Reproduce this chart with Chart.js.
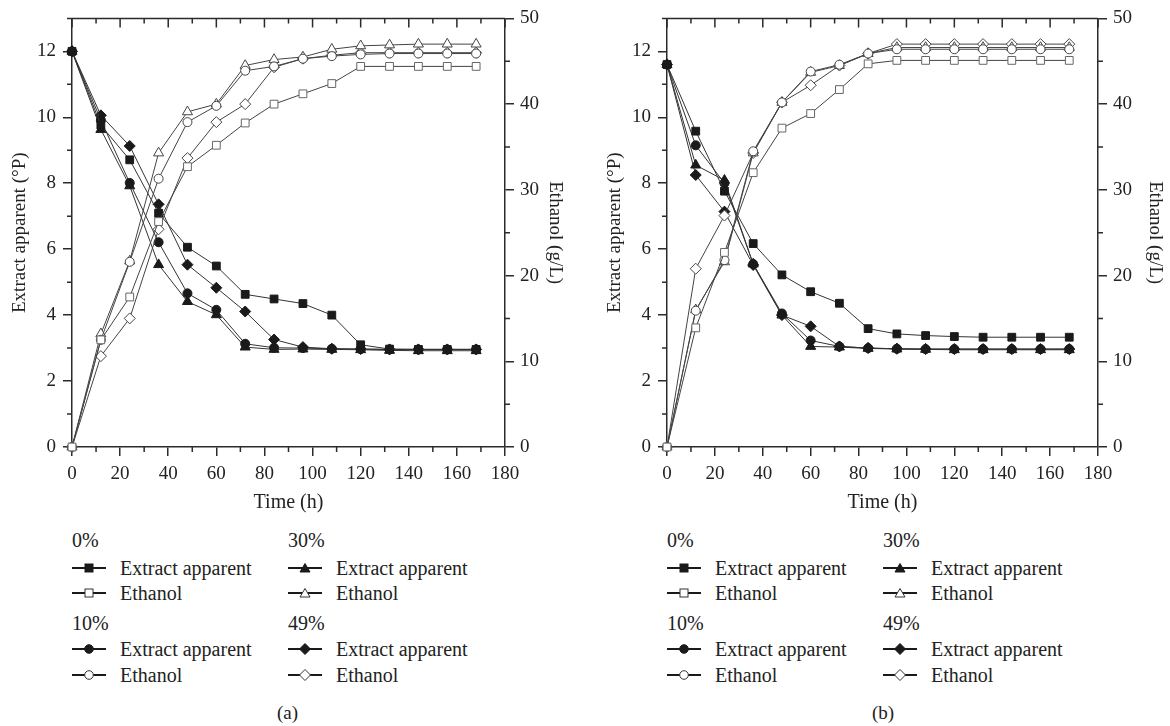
<!DOCTYPE html>
<html>
<head>
<meta charset="utf-8">
<script src="https://cdn.jsdelivr.net/npm/chart.js"></script>
<style>
  body { margin: 0; background: #fff; width: 1170px; height: 726px; overflow: hidden;
         font-family: 'Liberation Serif', serif; color: #222; }
  .panel { position: absolute; top: 0; height: 726px; }
  .panel canvas { position: absolute; left: 0; top: 0; }
  .lg { position: absolute; font-size: 20px; line-height: 20px; white-space: nowrap; }
  .lg svg { position: absolute; left: 0; top: 0; }
  .cap { position: absolute; top: 703px; font-size: 19px; line-height: 20px; }
</style>
</head>
<body>
<div class="panel" id="pa" style="left:0; width:595px"><canvas id="chartA" width="595" height="520"></canvas></div>
<div class="panel" id="pb" style="left:595px; width:575px"><canvas id="chartB" width="575" height="520"></canvas></div>
<script>
// sampling times (h)
const time = [0, 12, 24, 36, 48, 60, 72, 84, 96, 108, 120, 132, 144, 156, 168];
const levels = ['0%', '10%', '30%', '49%'];

// panel (a) - extract apparent (°P)
const aExtract0  = [12, 9.76, 8.71, 7.09, 6.06, 5.49, 4.63, 4.49, 4.35, 4.0, 3.1, 2.97, 2.96, 2.96, 2.96];
const aExtract10 = [12, 9.91, 8.01, 6.21, 4.66, 4.16, 3.13, 3.01, 3.0, 2.98, 2.97, 2.96, 2.96, 2.96, 2.96];
const aExtract30 = [12, 9.63, 7.92, 5.53, 4.41, 4.01, 3.03, 2.96, 2.97, 2.96, 2.95, 2.93, 2.92, 2.92, 2.92];
const aExtract49 = [12, 10.06, 9.13, 7.36, 5.53, 4.83, 4.11, 3.26, 3.03, 2.98, 2.97, 2.96, 2.96, 2.96, 2.96];
// panel (a) - ethanol (g/L)
const aEthanol0  = [0, 12.5, 17.5, 26.3, 32.7, 35.2, 37.8, 40.0, 41.2, 42.4, 44.4, 44.4, 44.4, 44.4, 44.4];
const aEthanol10 = [0, 12.5, 21.6, 31.3, 37.9, 39.8, 43.9, 44.4, 45.3, 45.6, 45.8, 45.9, 45.9, 45.9, 45.9];
const aEthanol30 = [0, 13.2, 21.7, 34.3, 39.1, 40.0, 44.5, 45.2, 45.5, 46.4, 46.8, 46.9, 47.0, 47.0, 47.0];
const aEthanol49 = [0, 10.6, 15.0, 25.4, 33.7, 37.9, 40.0, 44.3, 45.3, 45.7, 46.0, 46.0, 46.0, 46.0, 46.0];

// panel (b) - extract apparent (°P)
const bExtract0  = [11.6, 9.58, 7.76, 6.17, 5.22, 4.71, 4.36, 3.59, 3.43, 3.38, 3.35, 3.33, 3.33, 3.33, 3.33];
const bExtract10 = [11.6, 9.15, 8.0, 5.55, 4.05, 3.23, 3.05, 3.0, 2.98, 2.97, 2.97, 2.97, 2.97, 2.97, 2.97];
const bExtract30 = [11.6, 8.55, 8.09, 5.55, 4.0, 3.05, 3.03, 2.99, 2.97, 2.96, 2.95, 2.95, 2.95, 2.95, 2.95];
const bExtract49 = [11.6, 8.25, 7.14, 5.52, 4.0, 3.66, 3.05, 3.0, 2.98, 2.97, 2.97, 2.97, 2.97, 2.97, 2.97];
// panel (b) - ethanol (g/L)
const bEthanol0  = [0, 13.9, 22.7, 32.0, 37.2, 38.9, 41.7, 44.7, 45.1, 45.1, 45.1, 45.1, 45.1, 45.1, 45.1];
const bEthanol10 = [0, 15.9, 21.8, 34.5, 40.2, 43.8, 44.6, 45.9, 46.4, 46.4, 46.4, 46.4, 46.4, 46.4, 46.4];
const bEthanol30 = [0, 16.0, 21.6, 34.3, 40.2, 43.7, 44.5, 45.9, 46.6, 46.6, 46.6, 46.6, 46.6, 46.6, 46.6];
const bEthanol49 = [0, 20.8, 27.0, 34.3, 40.2, 42.2, 44.5, 45.9, 47.0, 47.0, 47.0, 47.0, 47.0, 47.0, 47.0];

const AXIS = '#2b2b2b';
const shapes = { '0%': 'rect', '10%': 'circle', '30%': 'triangle', '49%': 'rectRot' };
const radius = { rect: 5.5, circle: 4.5, triangle: 5.8, rectRot: 5.5 };

Chart.defaults.font.family = "'Liberation Serif', serif";
Chart.defaults.font.size = 19;
Chart.defaults.color = '#222';

// minor ticks + top frame, placed with the chart's own scales
const frameTicks = {
    id: 'frameTicks',
    afterDraw(chart) {
        const ctx = chart.ctx, a = chart.chartArea;
        const x = chart.scales.x, y = chart.scales.y, y2 = chart.scales.y2;
        ctx.save();
        ctx.strokeStyle = AXIS;
        ctx.lineWidth = 1.5;
        ctx.beginPath();
        ctx.moveTo(a.left - 5, a.top);
        ctx.lineTo(a.right, a.top);
        for (let v = 0; v <= 180; v += 10) {
            const px = x.getPixelForValue(v);
            ctx.moveTo(px, a.top);
            ctx.lineTo(px, a.top + (v % 20 === 0 ? 9 : 5));
            if (v % 20) { ctx.moveTo(px, a.bottom); ctx.lineTo(px, a.bottom + 5); }
        }
        for (let v = 1; v <= 13; v += 2) {
            const py = y.getPixelForValue(v);
            ctx.moveTo(a.left - 5, py); ctx.lineTo(a.left, py);
        }
        for (let v = 5; v <= 45; v += 10) {
            const py = y2.getPixelForValue(v);
            ctx.moveTo(a.right, py); ctx.lineTo(a.right + 5, py);
        }
        ctx.stroke();
        ctx.restore();
    }
};

function series(label, vals, axis, filled) {
    const shape = shapes[label];
    return {
        label: label + (axis === 'y' ? ' Extract apparent' : ' Ethanol'),
        data: time.map((t, i) => ({ x: t, y: vals[i] })),
        yAxisID: axis,
        showLine: true,
        borderColor: filled ? '#333' : '#444',
        borderWidth: 1,
        pointStyle: shape,
        pointRadius: radius[shape],
        pointBackgroundColor: filled ? '#1a1a1a' : '#fff',
        pointBorderColor: filled ? '#1a1a1a' : (label === '0%' ? '#666' : '#444'),
        pointBorderWidth: 1,
        clip: false
    };
}

function renderPanel(canvasId, extract, ethanol, rightWidth, rightTitlePad) {
    const datasets = [];
    levels.forEach((l, i) => datasets.push(series(l, ethanol[i], 'y2', false)));
    levels.forEach((l, i) => datasets.push(series(l, extract[i], 'y', true)));
    const gridOpts = { drawOnChartArea: false, tickLength: 9, color: AXIS, lineWidth: 1.5 };
    const borderOpts = { color: AXIS, width: 1.5 };
    new Chart(document.getElementById(canvasId), {
        type: 'scatter',
        data: { datasets: datasets },
        options: {
            responsive: false,
            animation: false,
            layout: { padding: { top: 15, left: 0, right: 0, bottom: 0 } },
            plugins: { legend: { display: false }, tooltip: { enabled: false } },
            scales: {
                x: {
                    type: 'linear', position: 'bottom', min: 0, max: 180,
                    ticks: { stepSize: 20, padding: 7, maxRotation: 0 },
                    grid: gridOpts, border: borderOpts,
                    title: { display: true, text: 'Time (h)', font: { size: 20 }, padding: { top: 0, bottom: 5 } },
                    afterFit: s => { s.height = 73; }
                },
                y: {
                    position: 'left', min: 0, max: 13,
                    ticks: { stepSize: 2, padding: 7 },
                    afterBuildTicks: s => { s.ticks = s.ticks.filter(t => t.value % 2 === 0); },
                    grid: gridOpts, border: borderOpts,
                    title: { display: true, text: 'Extract apparent (°P)', font: { size: 19 }, padding: { top: 9, bottom: 0 } },
                    afterFit: s => { s.width = 72; }
                },
                y2: {
                    position: 'right', min: 0, max: 50,
                    ticks: { stepSize: 10, padding: 6 },
                    grid: gridOpts, border: borderOpts,
                    title: { display: true, text: 'Ethanol (g/L)', font: { size: 19 }, padding: { top: rightTitlePad, bottom: 0 } },
                    afterFit: s => { s.width = rightWidth; }
                }
            }
        },
        plugins: [frameTicks]
    });
}

// legend below each panel: two columns of two groups
const legendGroups = [
    { level: '0%', col: 0, row: 0, shape: 'square' },
    { level: '30%', col: 1, row: 0, shape: 'triangle' },
    { level: '10%', col: 0, row: 1, shape: 'circle' },
    { level: '49%', col: 1, row: 1, shape: 'diamond' }
];

function markerSvg(shape, filled) {
    const fill = filled ? '#1a1a1a' : '#fff';
    const stroke = filled ? '#1a1a1a' : '#333';
    let m = '';
    if (shape === 'square') m = `<rect x="13" y="6" width="8" height="8"/>`;
    else if (shape === 'circle') m = `<circle cx="17" cy="10" r="4.3"/>`;
    else if (shape === 'triangle') m = `<polygon points="17,5.5 22,14 12,14"/>`;
    else m = `<polygon points="17,4.5 22.5,10 17,15.5 11.5,10"/>`;
    return `<svg width="36" height="20"><line x1="0" y1="10" x2="34" y2="10" stroke="#1a1a1a" stroke-width="1.8"/>` +
        `<g fill="${fill}" stroke="${stroke}" stroke-width="1">${m}</g></svg>`;
}

function renderLegend(panelId, caption) {
    const panel = document.getElementById(panelId);
    const colX = [72, 288];
    const rowY = [[540, 568, 593], [623, 649, 675]];
    legendGroups.forEach(g => {
        const x = colX[g.col], ys = rowY[g.row];
        const items = [
            { y: ys[0], html: g.level },
            { y: ys[1], html: markerSvg(g.shape, true) + '<span style="position:absolute;left:48px">Extract apparent</span>' },
            { y: ys[2], html: markerSvg(g.shape, false) + '<span style="position:absolute;left:48px">Ethanol</span>' }
        ];
        items.forEach(it => {
            const d = document.createElement('div');
            d.className = 'lg';
            d.style.left = x + 'px';
            d.style.top = (it.y - 10) + 'px';
            d.innerHTML = it.html;
            panel.appendChild(d);
        });
    });
    const c = document.createElement('div');
    c.className = 'cap';
    c.style.left = '277px';
    c.textContent = caption;
    panel.appendChild(c);
}

renderPanel('chartA', [aExtract0, aExtract10, aExtract30, aExtract49],
    [aEthanol0, aEthanol10, aEthanol30, aEthanol49], 90, 29);
renderPanel('chartB', [bExtract0, bExtract10, bExtract30, bExtract49],
    [bEthanol0, bEthanol10, bEthanol30, bEthanol49], 72, 4);
renderLegend('pa', '(a)');
renderLegend('pb', '(b)');
</script>
</body>
</html>
